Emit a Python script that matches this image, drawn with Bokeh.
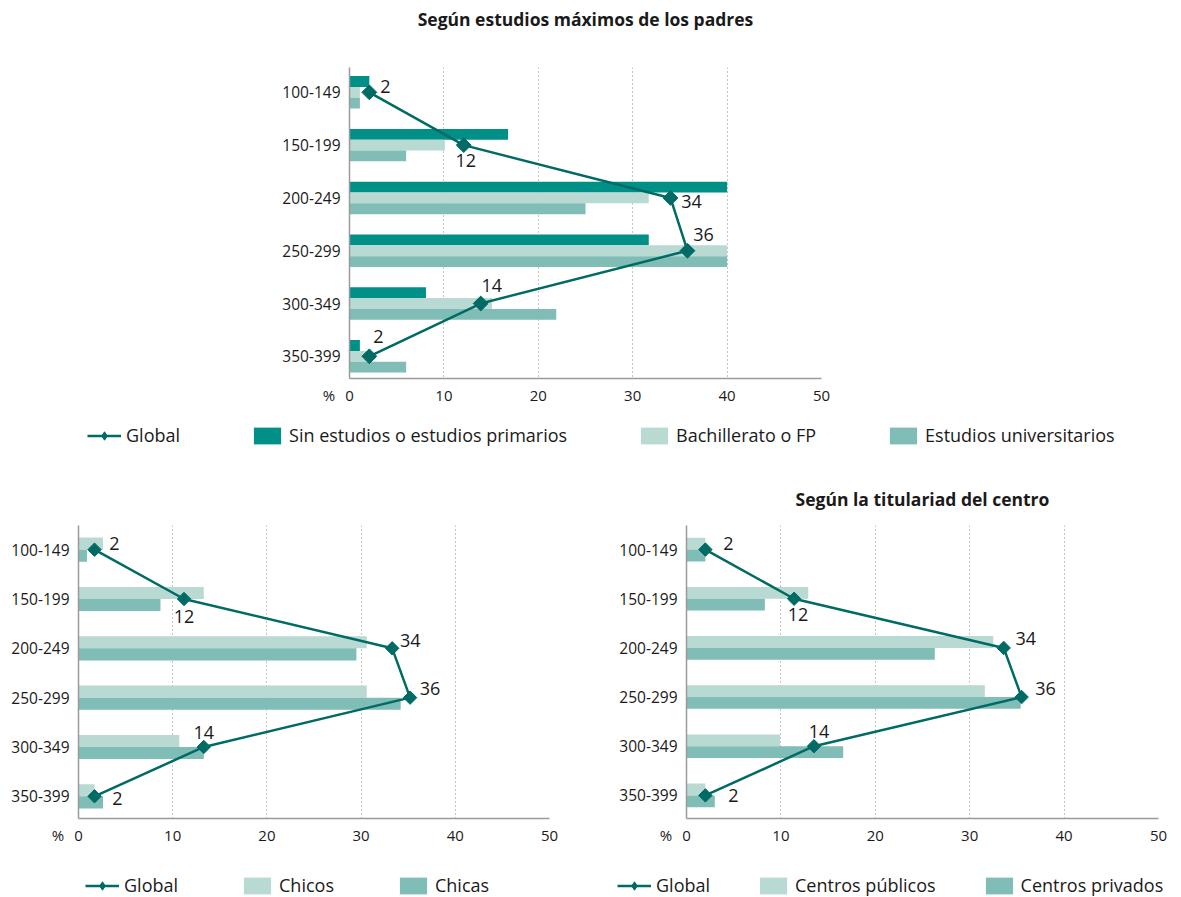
import numpy as np
from bokeh.plotting import figure
from bokeh.models import Range1d, FixedTicker, Legend, LegendItem, ColumnDataSource, Title
from bokeh.layouts import column, row
from bokeh.embed import file_html
from bokeh.resources import INLINE
from bokeh.core.properties import value

FONT = "Open Sans"
C_DARK = "#009088"
C_LIGHT = "#b9d9d3"
C_MID = "#7fbdb6"
C_LINE = "#006b65"
AXIS_GREY = "#9a9a9a"
GRID_GREY = "#8a8a8a"
TEXT = "#1a1a1a"

# ---------------- data ----------------
categories = ["100-149", "150-199", "200-249", "250-299", "300-349", "350-399"]
x_ticks = [0, 10, 20, 30, 40, 50]
unit_label = "%"

# Según estudios máximos de los padres
padres_global = [2.1, 12.1, 34.0, 35.8, 13.9, 2.1]
padres_global_labels = ["2", "12", "34", "36", "14", "2"]
padres_sin = [2.1, 16.8, 40.0, 31.7, 8.1, 1.1]
padres_bach = [1.1, 10.1, 31.7, 40.0, 15.1, 2.0]
padres_univ = [1.1, 6.0, 25.0, 40.0, 21.9, 6.0]

# Según sexo
sexo_global = [1.7, 11.2, 33.3, 35.2, 13.3, 1.7]
sexo_global_labels = ["2", "12", "34", "36", "14", "2"]
chicos = [2.6, 13.3, 30.6, 30.6, 10.7, 1.7]
chicas = [0.9, 8.7, 29.5, 34.2, 13.3, 2.6]

# Según la titularidad del centro
tit_global = [2.0, 11.4, 33.6, 35.5, 13.5, 2.0]
tit_global_labels = ["2", "12", "34", "36", "14", "2"]
publicos = [2.0, 12.9, 32.5, 31.6, 9.9, 2.0]
privados = [2.0, 8.3, 26.3, 35.4, 16.6, 3.0]

# label placement (screen px offsets, styling only)
top_dx = [16, 2, 21, 16, 11, 9]
top_dy = [-6, 15, 4, -16, -18, -20]
left_dx = [20, 0, 18, 20, 0, 23]
left_dy = [-6, 18, -8, -9, -14, 2]
right_dx = [23, 4, 22, 24, 5, 28]
right_dy = [-6, 16, -9, -9, -15, 0]


def make_chart(width, height, borders, pad_top, pad_bottom, bars, bar_h,
               glob, glob_labels, dx, dy, title=None, title_standoff=10,
               spacer_standoff=None, marker_size=9):
    bl, br, bt, bb = borders
    n = len(categories)
    idx = np.arange(n, dtype=float)
    p = figure(width=width, height=height, output_backend="svg", toolbar_location=None,
               x_range=Range1d(0, 50), y_range=Range1d(n - 1 + pad_bottom, -pad_top),
               min_border_left=bl, min_border_right=br, min_border_top=bt, min_border_bottom=bb)
    p.outline_line_color = None
    p.background_fill_color = "white"
    p.border_fill_color = "white"
    if title:
        p.title.text = title
        p.title.align = "center"
        p.title.text_font = FONT
        p.title.text_font_size = "17.5px"
        p.title.text_font_style = "bold"
        p.title.text_color = TEXT
        p.title.standoff = title_standoff
        if spacer_standoff is not None:
            p.add_layout(Title(text="\u00a0", text_font_size="15px", standoff=spacer_standoff), "above")

    p.ygrid.visible = False
    p.xgrid.ticker = FixedTicker(ticks=x_ticks[1:])
    p.xgrid.grid_line_color = GRID_GREY
    p.xgrid.grid_line_dash = "1 3"
    p.xgrid.grid_line_width = 1

    p.xaxis.ticker = FixedTicker(ticks=x_ticks)
    # unit sign placed left of the zero tick
    p.xaxis.major_label_overrides = {0: unit_label + "\u2002\u2009" + "0" + "\u2003\u2002"}
    p.yaxis.ticker = FixedTicker(ticks=list(range(n)))
    p.yaxis.major_label_overrides = {i: c for i, c in enumerate(categories)}
    for ax in (p.xaxis[0], p.yaxis[0]):
        ax.axis_line_color = AXIS_GREY
        ax.axis_line_width = 1.5
        ax.major_tick_line_color = None
        ax.minor_tick_line_color = None
        ax.major_label_text_font = FONT
        ax.major_label_text_color = TEXT
    p.xaxis.major_label_text_font_size = "15px"
    p.yaxis.major_label_text_font_size = "15.5px"
    p.xaxis.major_label_standoff = 0
    p.yaxis.major_label_standoff = 3

    nb = len(bars)
    offsets = [(k - (nb - 1) / 2) * bar_h for k in range(nb)]
    for (vals, color, label), off in zip(bars, offsets):
        src = ColumnDataSource(dict(y=idx + off, right=vals))
        p.hbar(y="y", left=0, right="right", height=bar_h, source=src,
               fill_color=color, line_color=None)

    gsrc = ColumnDataSource(dict(x=glob, y=idx, t=glob_labels, dx=dx, dy=dy))
    p.line(x="x", y="y", source=gsrc, line_color=C_LINE, line_width=2.5)
    p.scatter(x="x", y="y", source=gsrc, marker="square", angle=np.pi / 4,
              size=marker_size, fill_color=C_LINE, line_color=C_LINE)
    p.text(x="x", y="y", text="t", source=gsrc, x_offset="dx", y_offset="dy",
           text_align="center", text_baseline="middle", text_font=value(FONT),
           text_font_size="18px", text_color=TEXT)
    return p


def make_legend(width, height, bars, loc, spacing):
    # legend-only figure: glyphs sit outside its visible range, only the legend shows
    lf = figure(width=width, height=height, output_backend="svg", toolbar_location=None,
                x_axis_type=None, y_axis_type=None,
                x_range=Range1d(0, 1), y_range=Range1d(0, 1),
                min_border_left=0, min_border_right=0, min_border_top=0, min_border_bottom=0)
    lf.outline_line_color = None
    lf.background_fill_color = "white"
    lf.border_fill_color = "white"
    off = [-10.0, -9.0]
    lr = lf.line(x=off, y=off, line_color=C_LINE, line_width=2.5)
    sr = lf.scatter(x=off, y=off, marker="diamond", size=13,
                    fill_color=C_LINE, line_color=C_LINE)
    items = [LegendItem(label="Global", renderers=[lr, sr])]
    for vals, color, label in bars:
        r = lf.hbar(y=off, left=off, right=off, height=1, fill_color=color, line_color=None)
        items.append(LegendItem(label=label, renderers=[r]))
    leg = Legend(items=items, orientation="horizontal", location=loc,
                 glyph_width=34, glyph_height=21, label_standoff=5,
                 spacing=spacing, padding=0, margin=0,
                 border_line_color=None, background_fill_alpha=0,
                 label_text_font=FONT, label_text_font_size="18px",
                 label_text_color=TEXT)
    lf.add_layout(leg)
    return lf


top_bars = [(padres_sin, C_DARK, "Sin estudios o estudios primarios"),
            (padres_bach, C_LIGHT, "Bachillerato o FP"),
            (padres_univ, C_MID, "Estudios universitarios")]
left_bars = [(chicos, C_LIGHT, "Chicos"), (chicas, C_MID, "Chicas")]
right_bars = [(publicos, C_LIGHT, "Centros públicos"), (privados, C_MID, "Centros privados")]

top = make_chart(1181, 407, (349, 360, 67, 25), 0.47, 0.42, top_bars, 0.205,
                 padres_global, padres_global_labels, top_dx, top_dy,
                 title="Según estudios máximos de los padres", title_standoff=0,
                 spacer_standoff=18, marker_size=10.5)
top_leg = make_legend(1181, 53, top_bars, (87, 13), 70)

left = make_chart(600, 387, (78, 51, 65, 25), 0.49, 0.45, left_bars, 0.245,
                  sexo_global, sexo_global_labels, left_dx, left_dy, marker_size=9.5)
left_leg = make_legend(600, 50, left_bars, (85, 0), 62)

right = make_chart(581, 387, (86, 23, 65, 25), 0.49, 0.47, right_bars, 0.24,
                   tit_global, tit_global_labels, right_dx, right_dy,
                   title="Según la titulariad del centro", title_standoff=29, marker_size=9.5)
right_leg = make_legend(581, 50, right_bars, (17, 0), 46)

layout = column(top, row(top_leg), row(left, right), row(left_leg, right_leg))
open("out.html", "w").write(file_html(layout, INLINE))
